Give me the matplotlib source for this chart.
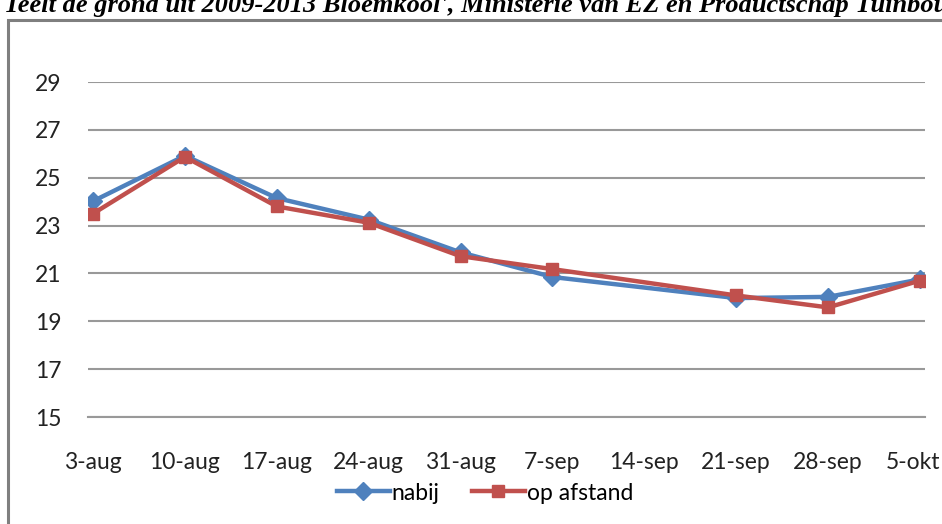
import numpy as np
import matplotlib.pyplot as plt
from matplotlib.patches import Rectangle
from matplotlib.transforms import ScaledTranslation

# weekly values; no measurement on 14-sep
weeks = ['3-aug', '10-aug', '17-aug', '24-aug', '31-aug', '7-sep',
         '14-sep', '21-sep', '28-sep', '5-okt']
nabij = [24.02, 25.92, 24.15, 23.25, 21.88, 20.85, np.nan, 19.97, 20.02, 20.75]
op_afstand = [23.5, 25.87, 23.8, 23.12, 21.72, 21.18, np.nan, 20.08, 19.58, 20.7]

yticks = [15, 17, 19, 21, 23, 25, 27, 29]

plt.rcParams['font.family'] = ['Lato', 'DejaVu Sans']

fig = plt.figure(figsize=(9.42, 5.24), dpi=100)
ax = fig.add_axes([88 / 942, 1 - 417 / 524, (925 - 88) / 942, (417 - 82) / 524])

x = np.arange(len(weeks))


def plot_series(values, **kw):
    values = np.asarray(values, dtype=float)
    ok = ~np.isnan(values)
    # gaps are bridged with a straight line
    ax.plot(x[ok], values[ok], linewidth=3.2, solid_joinstyle='round', **kw)


plot_series(nabij, color='#4f81bd', marker='D', markersize=9, label='nabij', zorder=3)
plot_series(op_afstand, color='#c0504d', marker='s', markersize=8.5, label='op afstand', zorder=4)

ax.set_xlim(-0.055, len(weeks) - 1 + 0.055)
ax.set_ylim(15, 29)
ax.set_yticks(yticks)
ax.set_xticks(x)
ax.set_xticklabels(weeks)
ax.yaxis.grid(True, color='#999999', linewidth=1.5)
ax.set_axisbelow(True)
for side in ['top', 'right', 'left']:
    ax.spines[side].set_visible(False)
ax.spines['bottom'].set_color('#999999')
ax.spines['bottom'].set_linewidth(1.5)
ax.tick_params(axis='both', length=0, labelsize=16.5, colors='#222222')
ax.tick_params(axis='y', pad=19)
ax.tick_params(axis='x', pad=25)

# keep the last date label inside the figure
last = ax.get_xticklabels()[-1]
last.set_transform(last.get_transform() + ScaledTranslation(-7 / 100, 0, fig.dpi_scale_trans))

ax.legend(loc='center', bbox_to_anchor=(485 / 942, 1 - 493 / 524),
          bbox_transform=fig.transFigure, ncol=2, frameon=False,
          fontsize=16.5, handlelength=2.3, handletextpad=0.1,
          columnspacing=1.4, borderpad=0)

# frame around the chart
fig.add_artist(Rectangle((8 / 942, -0.05), 1.0, 1 - 20 / 524 + 0.05,
                         transform=fig.transFigure, fill=False,
                         edgecolor='#7f7f7f', linewidth=2.2))

# source line above the chart
fig.text(4 / 942, 1 - 12 / 524,
         "Teelt de grond uit 2009-2013 Bloemkool', Ministerie van EZ en Productschap Tuinbouw",
         family='Liberation Serif', style='italic', weight='bold', fontsize=19,
         va='baseline', ha='left', color='black')

fig.savefig('out.png', dpi=100)
